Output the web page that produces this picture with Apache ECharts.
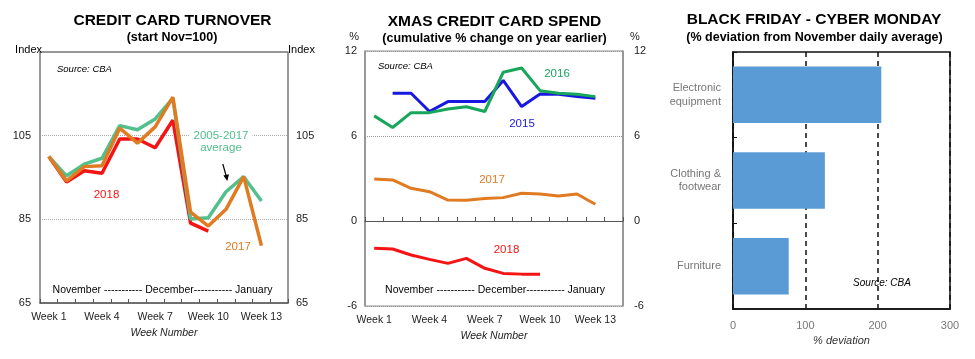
<!DOCTYPE html>
<html>
<head>
<meta charset="utf-8">
<script src="https://cdn.jsdelivr.net/npm/echarts@6/dist/echarts.min.js"></script>
<style>
html,body{margin:0;padding:0;background:#fff;}
#c{width:975px;height:359px;}
</style>
</head>
<body>
<div id="c"></div>
<script>
// ---------- DATA ----------
var weeks = ['Week 1','Week 2','Week 3','Week 4','Week 5','Week 6','Week 7','Week 8','Week 9','Week 10','Week 11','Week 12','Week 13','Week 14'];

// Chart 1: Credit card turnover (start Nov = 100)
var turnoverAvg  = [100, 95.4, 98.2, 99.6, 107.4, 106.4, 109.0, 113.9, 85.1, 85.4, 91.6, 95.2, 89.4, null];
var turnover2017 = [100, 94.2, 97.6, 97.8, 106.8, 103.2, 107.1, 114.2, 86.7, 83.4, 87.4, 95.2, 78.7, null];
var turnover2018 = [100, 93.9, 96.6, 96.0, 104.2, 104.2, 102.1, 108.7, 84.1, 82.2, null, null, null, null];
var turnoverTicks = [65, 85, 105, 125];

// Chart 2: Xmas credit card spend (cumulative % change on year earlier)
var spend2015 = [null, 9.02, 9.02, 7.73, 8.43, 8.43, 8.43, 9.92, 8.08, 8.97, 8.95, 8.78, 8.67, null];
var spend2016 = [7.42, 6.6, 7.65, 7.65, 7.9, 8.06, 7.73, 10.5, 10.8, 9.2, 9.02, 8.95, 8.78, null];
var spend2017 = [2.97, 2.9, 2.31, 2.07, 1.48, 1.46, 1.58, 1.65, 1.96, 1.91, 1.77, 1.91, 1.18, null];
var spend2018 = [-1.93, -1.98, -2.4, -2.71, -2.99, -2.64, -3.34, -3.7, -3.75, -3.75, null, null, null, null];
var spendTicks = [-6, 0, 6, 12];

// Chart 3: Black Friday - Cyber Monday (% deviation from November daily average)
var bfCategories = ['Electronic\nequipment', 'Clothing &\nfootwear', 'Furniture'];
var bfValues = [205, 127, 77];
var bfTicks = [0, 100, 200, 300];

// ---------- STYLE ----------
var FONT = '"Liberation Sans", Arial, sans-serif';
var C_AVG = '#52C08C', C_17 = '#E07B22', C_18 = '#F51414', C_15 = '#1818E0', C_16 = '#17A65A';
var GRAY = '#8a8a8a';

function txt(text, x, y, opt) {
  opt = opt || {};
  var st = {
    text: text, x: x, y: y,
    fill: opt.fill || '#000',
    fontFamily: FONT,
    fontSize: opt.size || 11,
    fontWeight: opt.weight || 'normal',
    fontStyle: opt.style || 'normal',
    align: opt.align || 'center',
    verticalAlign: 'middle'
  };
  if (opt.bg) { st.backgroundColor = opt.bg; st.padding = [0, 4, 0, 4]; }
  return {type: 'text', silent: true, z: 100, style: st};
}

function weekLabelInterval(idx) { return idx % 3 === 0; }

var chart = echarts.init(document.getElementById('c'), null, {renderer: 'canvas'});

var option = {
  animation: false,
  backgroundColor: '#fff',
  textStyle: {fontFamily: FONT},
  grid: [
    {left: 40, top: 52, width: 248, height: 251, show: true, borderColor: GRAY, borderWidth: 1, backgroundColor: 'transparent'},
    {left: 365, top: 51, width: 258, height: 255, show: true, borderColor: GRAY, borderWidth: 1, backgroundColor: 'transparent'},
    {left: 733, top: 52, width: 217, height: 257, show: true, borderColor: '#111', borderWidth: 1.5, backgroundColor: 'transparent'}
  ],
  xAxis: [
    {
      gridIndex: 0, type: 'category', data: weeks, boundaryGap: true,
      axisLine: {show: true, lineStyle: {color: '#555', width: 1.5}},
      axisTick: {show: true, inside: true, length: 4, interval: 0, lineStyle: {color: '#555'}},
      axisLabel: {interval: weekLabelInterval, color: '#222', fontSize: 10.5, margin: 9, fontFamily: FONT},
      splitLine: {show: false},
      name: 'Week Number', nameLocation: 'middle', nameGap: 23,
      nameTextStyle: {fontStyle: 'italic', fontSize: 10.5, color: '#222', fontFamily: FONT}
    },
    {
      gridIndex: 1, type: 'category', data: weeks, boundaryGap: true, position: 'bottom',
      axisLine: {show: false, onZero: false},
      axisTick: {show: false},
      axisLabel: {interval: weekLabelInterval, color: '#222', fontSize: 10.5, margin: 9, fontFamily: FONT},
      splitLine: {show: false},
      name: 'Week Number', nameLocation: 'middle', nameGap: 22,
      nameTextStyle: {fontStyle: 'italic', fontSize: 10.5, color: '#222', fontFamily: FONT}
    },
    {
      gridIndex: 1, type: 'category', data: weeks, boundaryGap: true, position: 'bottom',
      axisLine: {show: true, onZero: true, lineStyle: {color: '#555', width: 1.2}},
      axisTick: {show: true, inside: true, length: 4, interval: 0, lineStyle: {color: '#555'}},
      axisLabel: {show: false},
      splitLine: {show: false}
    },
    {
      gridIndex: 2, type: 'value', min: bfTicks[0], max: bfTicks[bfTicks.length - 1], interval: 100,
      axisLine: {show: true, lineStyle: {color: '#111', width: 1.5}},
      axisTick: {show: false},
      axisLabel: {color: '#777', fontSize: 11, margin: 11, fontFamily: FONT},
      splitLine: {show: true, lineStyle: {color: '#111', type: [5, 4], width: 1.5}},
      name: '% deviation', nameLocation: 'middle', nameGap: 19,
      nameTextStyle: {fontStyle: 'italic', fontSize: 11, color: '#333', fontFamily: FONT}
    }
  ],
  yAxis: [
    {
      gridIndex: 0, type: 'value', min: 65, max: 125, interval: 20, position: 'left',
      axisLine: {show: true, lineStyle: {color: GRAY, width: 1.5}},
      axisTick: {show: false},
      axisLabel: {color: '#222', fontSize: 11, margin: 9, fontFamily: FONT,
        formatter: function (v) { return v === 125 ? '' : String(v); }},
      splitLine: {show: true, lineStyle: {color: '#aaa', type: 'dotted', width: 1}}
    },
    {
      gridIndex: 0, type: 'value', min: 65, max: 125, interval: 20, position: 'right',
      axisLine: {show: true, lineStyle: {color: GRAY, width: 1.5}},
      axisTick: {show: false},
      axisLabel: {color: '#222', fontSize: 11, margin: 8, fontFamily: FONT,
        formatter: function (v) { return v === 125 ? '' : String(v); }},
      splitLine: {show: false}
    },
    {
      gridIndex: 1, type: 'value', min: -6, max: 12, interval: 6, position: 'left',
      axisLine: {show: true, onZero: false, lineStyle: {color: GRAY, width: 1.5}},
      axisTick: {show: false},
      axisLabel: {color: '#222', fontSize: 11, margin: 8, fontFamily: FONT},
      splitLine: {show: true, lineStyle: {color: '#999', type: 'dotted', width: 1}},
      name: '%', nameLocation: 'end', nameGap: 9,
      nameTextStyle: {color: '#222', fontSize: 11, align: 'right', padding: [0, 6, 0, 0], fontFamily: FONT}
    },
    {
      gridIndex: 1, type: 'value', min: -6, max: 12, interval: 6, position: 'right',
      axisLine: {show: true, onZero: false, lineStyle: {color: GRAY, width: 1.5}},
      axisTick: {show: false},
      axisLabel: {color: '#222', fontSize: 11, margin: 11, fontFamily: FONT},
      splitLine: {show: false},
      name: '%', nameLocation: 'end', nameGap: 9,
      nameTextStyle: {color: '#222', fontSize: 11, align: 'left', padding: [0, 0, 0, 7], fontFamily: FONT}
    },
    {
      gridIndex: 2, type: 'category', data: bfCategories, inverse: true,
      axisLine: {show: true, lineStyle: {color: '#111', width: 1.5}},
      axisTick: {show: true, inside: true, length: 4, lineStyle: {color: '#111'}},
      axisLabel: {color: '#777', fontSize: 11, margin: 12, lineHeight: 13.5, align: 'right', fontFamily: FONT},
      splitLine: {show: false}
    }
  ],
  series: [
    {type: 'line', name: '2005-2017 average', xAxisIndex: 0, yAxisIndex: 0, data: turnoverAvg,
      showSymbol: false, lineStyle: {color: C_AVG, width: 3.5}, itemStyle: {color: C_AVG}, z: 3,
      markLine: {silent: true, symbol: 'none', label: {show: false},
        lineStyle: {color: GRAY, type: 'solid', width: 1.5}, data: [{yAxis: turnoverTicks[3]}]}},
    {type: 'line', name: '2017', xAxisIndex: 0, yAxisIndex: 0, data: turnover2017,
      showSymbol: false, lineStyle: {color: C_17, width: 3.5}, itemStyle: {color: C_17}, z: 4},
    {type: 'line', name: '2018', xAxisIndex: 0, yAxisIndex: 0, data: turnover2018,
      showSymbol: false, lineStyle: {color: C_18, width: 3.5}, itemStyle: {color: C_18}, z: 2},

    {type: 'line', name: '2015', xAxisIndex: 1, yAxisIndex: 2, data: spend2015,
      showSymbol: false, lineStyle: {color: C_15, width: 3}, itemStyle: {color: C_15}, z: 3},
    {type: 'line', name: '2016', xAxisIndex: 1, yAxisIndex: 2, data: spend2016,
      showSymbol: false, lineStyle: {color: C_16, width: 3}, itemStyle: {color: C_16}, z: 4},
    {type: 'line', name: '2017', xAxisIndex: 1, yAxisIndex: 2, data: spend2017,
      showSymbol: false, lineStyle: {color: C_17, width: 3}, itemStyle: {color: C_17}, z: 3},
    {type: 'line', name: '2018', xAxisIndex: 1, yAxisIndex: 2, data: spend2018,
      showSymbol: false, lineStyle: {color: C_18, width: 3}, itemStyle: {color: C_18}, z: 3},

    {type: 'bar', name: 'Deviation', xAxisIndex: 3, yAxisIndex: 4, data: bfValues,
      barCategoryGap: '34%', itemStyle: {color: '#5B9BD5'}, z: 1}
  ],
  graphic: [
    // Chart 1 titles & annotations
    txt('CREDIT CARD TURNOVER', 172.5, 21, {size: 15.5, weight: 'bold'}),
    txt('(start Nov=100)', 172, 37.5, {size: 12.5, weight: 'bold'}),
    txt('Index', 42, 50, {align: 'right', size: 11}),
    txt('Index', 288, 50, {align: 'left', size: 11}),
    txt('Source: CBA', 57, 69, {align: 'left', size: 9.5, style: 'italic'}),
    txt('2005-2017', 221, 135.5, {fill: C_AVG, size: 11.5, bg: '#fff'}),
    txt('average', 221, 147.5, {fill: C_AVG, size: 11.5}),
    txt('2018', 106.5, 194.5, {fill: C_18, size: 11.5}),
    txt('2017', 238, 246.5, {fill: C_17, size: 11.5}),
    txt('November ----------- December----------- January', 162.5, 290, {size: 10.5}),
    {type: 'line', silent: true, z: 100, shape: {x1: 222.8, y1: 164, x2: 226.2, y2: 176},
      style: {stroke: '#000', lineWidth: 1.2}},
    {type: 'polygon', silent: true, z: 100, shape: {points: [[223.4, 175.5], [229.0, 174.2], [227.3, 181]]},
      style: {fill: '#000'}},

    // Chart 2 titles & annotations
    txt('XMAS CREDIT CARD SPEND', 494.5, 22, {size: 15.5, weight: 'bold'}),
    txt('(cumulative % change on year earlier)', 494.5, 38.5, {size: 12.5, weight: 'bold'}),
    txt('Source: CBA', 378, 66, {align: 'left', size: 9.5, style: 'italic'}),
    txt('2016', 557, 73.5, {fill: C_16, size: 11.5}),
    txt('2015', 522, 123.5, {fill: C_15, size: 11.5}),
    txt('2017', 492, 179.5, {fill: C_17, size: 11.5}),
    txt('2018', 506.5, 249.5, {fill: C_18, size: 11.5}),
    txt('November ----------- December----------- January', 495, 290, {size: 10.5}),

    // Chart 3 titles & annotations
    txt('BLACK FRIDAY - CYBER MONDAY', 814, 19.5, {size: 15.5, weight: 'bold'}),
    txt('(% deviation from November daily average)', 814.5, 37.5, {size: 12.5, weight: 'bold'}),
    txt('Source: CBA', 882, 283.5, {size: 10, style: 'italic'})
  ]
};

chart.setOption(option);
</script>
</body>
</html>
